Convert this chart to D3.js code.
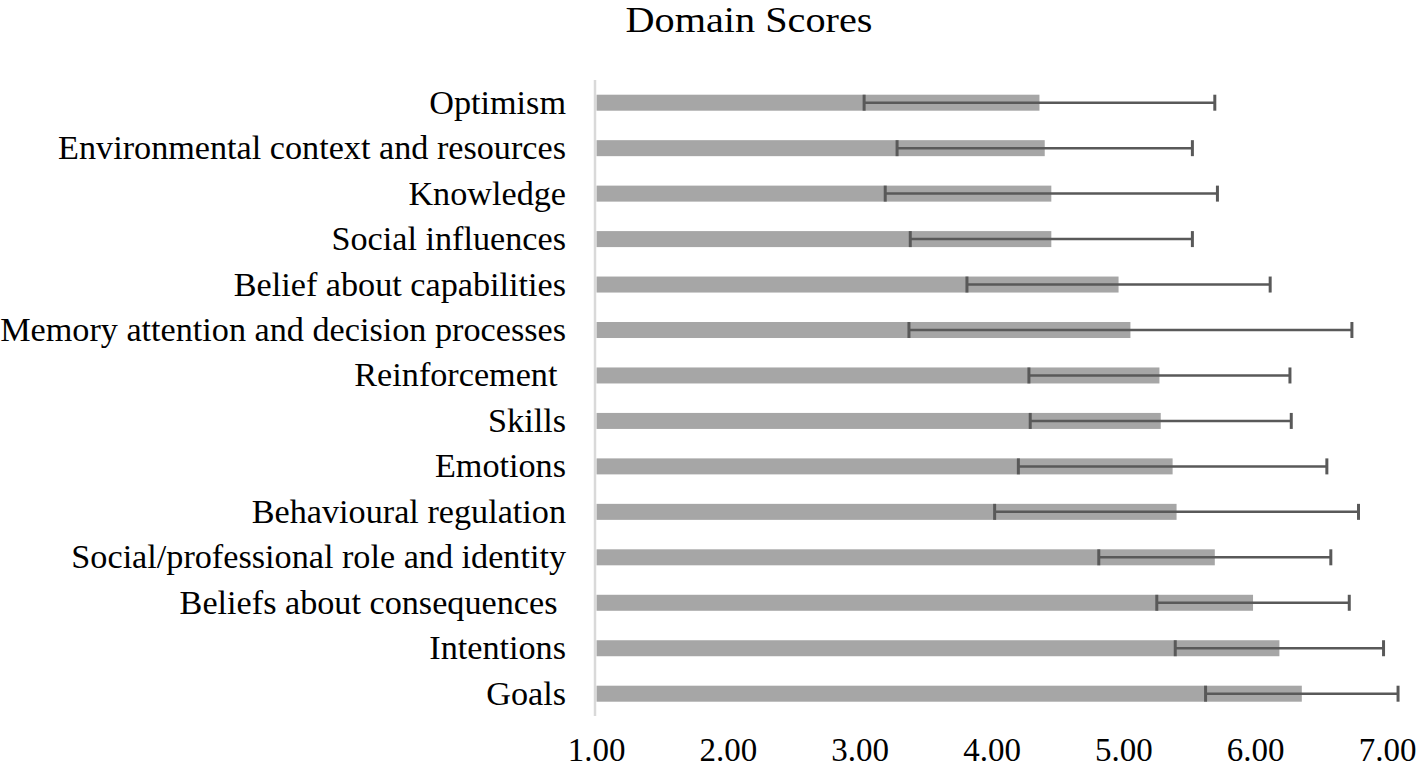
<!DOCTYPE html>
<html>
<head>
<meta charset="utf-8">
<script src="https://cdn.jsdelivr.net/npm/d3@7"></script>
<style>
  body { margin: 0; background: #fff; }
  text { font-family: "Liberation Serif", "Times New Roman", serif; fill: #000; }
</style>
</head>
<body>
<div id="chart"></div>
<script>
// domain names, top to bottom
const domains = [
  "Optimism",
  "Environmental context and resources",
  "Knowledge",
  "Social influences",
  "Belief about capabilities",
  "Memory attention and decision processes",
  "Reinforcement ",
  "Skills",
  "Emotions",
  "Behavioural regulation",
  "Social/professional role and identity",
  "Beliefs about consequences ",
  "Intentions",
  "Goals"
];
// mean scores
const means = [4.36, 4.40, 4.45, 4.45, 4.96, 5.05, 5.27, 5.28, 5.37, 5.40, 5.69, 5.98, 6.18, 6.35];
// standard deviations (error bars)
const sds = [1.33, 1.12, 1.26, 1.07, 1.15, 1.68, 0.99, 0.99, 1.17, 1.38, 0.88, 0.73, 0.79, 0.73];
const ticks = [1, 2, 3, 4, 5, 6, 7];

const width = 1418, height = 768;

const svg = d3.select("#chart").append("svg")
  .attr("width", width)
  .attr("height", height);

const x = d3.scaleLinear().domain([1, 7]).range([596.5, 1387.5]);
const y = d3.scalePoint().domain(domains).range([102.7, 693.7]);
const barH = 16;

// title (slightly wide, like the original)
svg.append("text")
  .attr("transform", "translate(749,32) scale(1.15,1)")
  .attr("text-anchor", "middle")
  .style("font-size", "35px")
  .text("Domain Scores");

// bars
svg.selectAll("rect.bar")
  .data(domains)
  .enter()
  .append("rect")
  .attr("class", "bar")
  .attr("x", x(1))
  .attr("y", d => y(d) - barH / 2)
  .attr("width", (d, i) => x(means[i]) - x(1))
  .attr("height", barH)
  .attr("fill", "#a6a6a6");

// vertical axis line
svg.append("line")
  .attr("x1", x(1) - 1.5).attr("x2", x(1) - 1.5)
  .attr("y1", 80).attr("y2", 716)
  .attr("stroke", "#d9d9d9")
  .attr("stroke-width", 2.5);

// error bars
const err = svg.selectAll("g.err")
  .data(domains)
  .enter()
  .append("g")
  .attr("class", "err");

err.append("line")
  .attr("x1", (d, i) => x(means[i] - sds[i]))
  .attr("x2", (d, i) => x(means[i] + sds[i]))
  .attr("y1", d => y(d)).attr("y2", d => y(d))
  .attr("stroke", "#595959")
  .attr("stroke-width", 2.5);

[-1, 1].forEach(function(s) {
  err.append("line")
    .attr("x1", (d, i) => x(means[i] + s * sds[i]))
    .attr("x2", (d, i) => x(means[i] + s * sds[i]))
    .attr("y1", d => y(d) - barH / 2)
    .attr("y2", d => y(d) + barH / 2)
    .attr("stroke", "#595959")
    .attr("stroke-width", 3);
});

// category labels
svg.selectAll("text.cat")
  .data(domains)
  .enter()
  .append("text")
  .attr("class", "cat")
  .attr("x", 566)
  .attr("y", d => y(d) + 11)
  .attr("text-anchor", "end")
  .style("font-size", "34.2px")
  .style("white-space", "pre")
  .text(d => d);

// x tick labels
svg.selectAll("text.tick")
  .data(ticks)
  .enter()
  .append("text")
  .attr("class", "tick")
  .attr("x", d => x(d))
  .attr("y", 761)
  .attr("text-anchor", "middle")
  .style("font-size", "33px")
  .text(d => d.toFixed(2));
</script>
</body>
</html>
